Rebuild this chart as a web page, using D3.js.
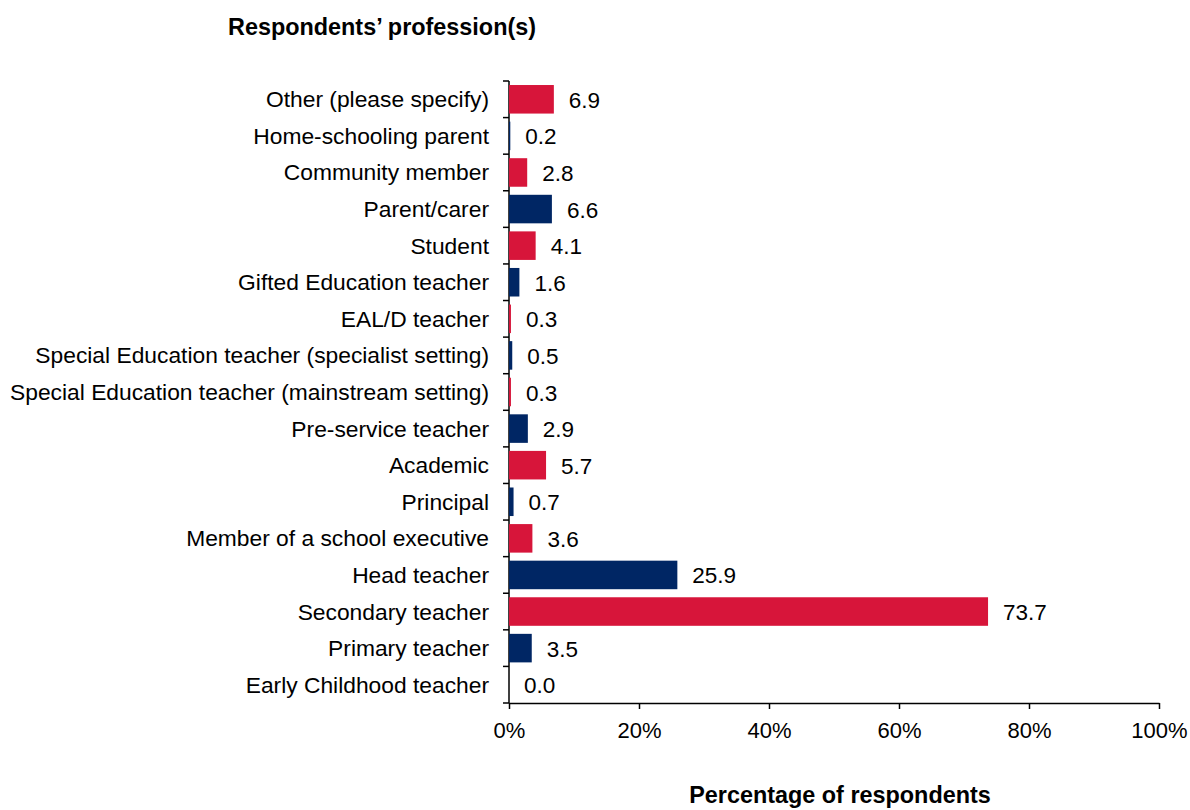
<!DOCTYPE html>
<html lang="en">
<head>
<meta charset="UTF-8">
<title>Respondents' profession(s)</title>
<script src="https://d3js.org/d3.v7.min.js"></script>
<style>
  body { margin: 0; background: #fff; }
  text { font-family: "Liberation Sans", Arial, sans-serif; fill: #000; }
  .axis path, .axis line { stroke: #000; stroke-width: 1.5px; }
  .axis text { font-size: 22px; font-family: "Liberation Sans", Arial, sans-serif; }
  .axis.y text { font-size: 22.8px; }
  .value { font-size: 22.5px; }
  .title { font-size: 23.4px; font-weight: bold; }
</style>
</head>
<body>
<script>

// ================== DATA ==================
var categories = [
  "Other (please specify)",
  "Home-schooling parent",
  "Community member",
  "Parent/carer",
  "Student",
  "Gifted Education teacher",
  "EAL/D teacher",
  "Special Education teacher (specialist setting)",
  "Special Education teacher (mainstream setting)",
  "Pre-service teacher",
  "Academic",
  "Principal",
  "Member of a school executive",
  "Head teacher",
  "Secondary teacher",
  "Primary teacher",
  "Early Childhood teacher"
];
var values = [6.9, 0.2, 2.8, 6.6, 4.1, 1.6, 0.3, 0.5, 0.3, 2.9, 5.7, 0.7, 3.6, 25.9, 73.7, 3.5, 0.0];
var xTicks = [0, 20, 40, 60, 80, 100];
var colors = ["#d7153a", "#002664"];

// ================== CANVAS ==================
var w = 1190, h = 810;
var margin = { top: 81, left: 509, right: 31, bottom: 107 };
var width = w - margin.left - margin.right;
var height = h - margin.top - margin.bottom;

var svg = d3.select("body").append("svg")
  .attr("width", w)
  .attr("height", h);
var chart = svg.append("g")
  .attr("transform", "translate(" + margin.left + "," + margin.top + ")");

// ================== SCALES ==================
var x = d3.scaleLinear().domain([0, 100]).range([0, width]);
var y = d3.scaleBand().domain(categories).range([0, height]).paddingInner(0.22).paddingOuter(0.11);

// ================== AXES ==================
var xAxis = d3.axisBottom(x)
  .tickValues(xTicks)
  .tickSize(6)
  .tickSizeOuter(0)
  .tickPadding(13)
  .tickFormat(function(d){ return d + "%"; });

chart.append("g")
  .classed("axis x", true)
  .attr("transform", "translate(0," + height + ")")
  .call(xAxis);

// y axis: labels per category, ticks at band boundaries
var yAxis = chart.append("g").classed("axis y", true);
yAxis.append("line")
  .attr("x1", 0).attr("x2", 0)
  .attr("y1", 0).attr("y2", height);
var step = height / categories.length;
yAxis.selectAll(".ytick")
  .data(d3.range(categories.length + 1))
  .enter().append("line")
  .attr("x1", -6).attr("x2", 0)
  .attr("y1", function(i){ return i * step; })
  .attr("y2", function(i){ return i * step; });
yAxis.selectAll(".ylabel")
  .data(categories)
  .enter().append("text")
  .attr("x", -20)
  .attr("y", function(d){ return y(d) + y.bandwidth() / 2; })
  .attr("dy", "0.35em")
  .attr("text-anchor", "end")
  .text(function(d){ return d; });

// ================== BARS ==================
chart.selectAll(".bar")
  .data(values)
  .enter().append("rect")
  .classed("bar", true)
  .attr("x", 0)
  .attr("y", function(d, i){ return y(categories[i]); })
  .attr("width", function(d){ return x(d); })
  .attr("height", y.bandwidth())
  .attr("fill", function(d, i){ return colors[i % 2]; });

chart.selectAll(".value")
  .data(values)
  .enter().append("text")
  .classed("value", true)
  .attr("x", function(d){ return x(d) + 15; })
  .attr("y", function(d, i){ return y(categories[i]) + y.bandwidth() / 2; })
  .attr("dy", "0.38em")
  .text(function(d){ return d.toFixed(1); });

// ================== TITLES ==================
svg.append("text")
  .classed("title", true)
  .attr("x", 228)
  .attr("y", 35)
  .text("Respondents\u2019 profession(s)");

svg.append("text")
  .classed("title", true)
  .attr("x", 840)
  .attr("y", 803)
  .attr("text-anchor", "middle")
  .text("Percentage of respondents");

</script>
</body>
</html>
